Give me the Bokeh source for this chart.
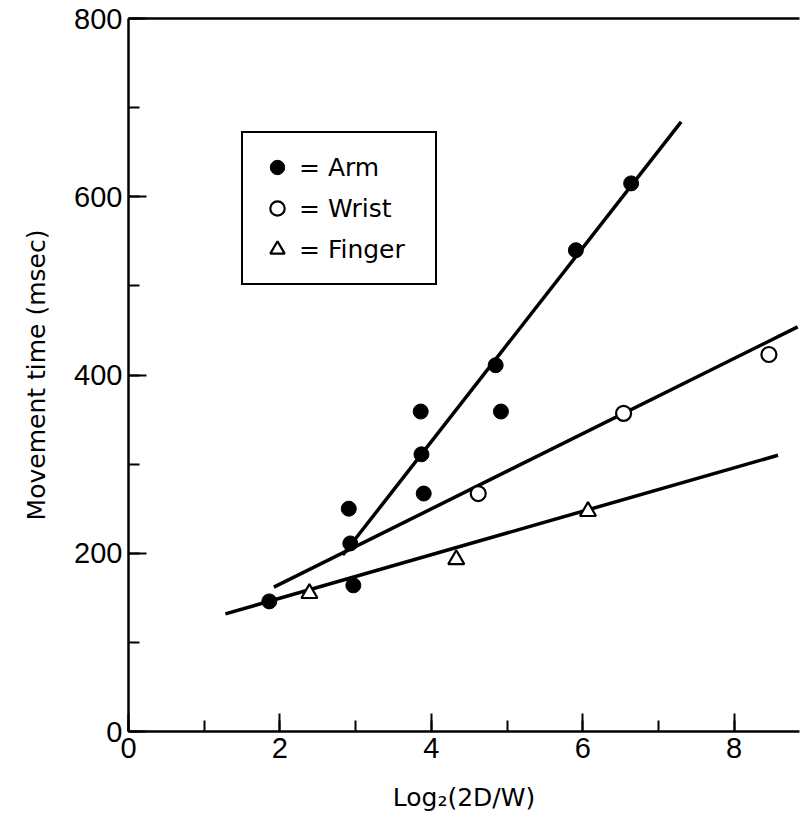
from bokeh.plotting import figure
from bokeh.models import Range1d, SingleIntervalTicker, Legend, LegendItem, LinearAxis, FixedTicker
from bokeh.embed import file_html
from bokeh.resources import INLINE

# ---- data ----
arm_x = [1.86, 2.91, 2.93, 2.97, 3.86, 3.87, 3.90, 4.85, 4.92, 5.91, 6.64]
arm_y = [146, 250, 211, 164, 359, 311, 267, 411, 359, 540, 615]
wrist_x = [4.62, 6.54, 8.46]
wrist_y = [267, 357, 423]
finger_x = [2.39, 4.33, 6.07]
finger_y = [155, 193, 247]

# fitted lines (end points)
arm_line_x = [2.83, 7.30]
arm_line_y = [198, 684]
wrist_line_x = [1.92, 8.84]
wrist_line_y = [162, 454]
finger_line_x = [1.28, 8.58]
finger_line_y = [132, 310]

labels = ["= Arm", "= Wrist", "= Finger"]

W, H = 800, 814
left, top = 128, 18
bottom_px = 731
p = figure(width=W, height=H, output_backend="svg", toolbar_location=None,
           x_range=Range1d(0, (W - 1 - left) / 75.7), y_range=Range1d(0, 800),
           min_border_left=left, min_border_right=1, min_border_top=top,
           min_border_bottom=H - bottom_px)
p.outline_line_color = None
p.grid.visible = False
p.background_fill_color = "white"

for ax in (p.xaxis[0], p.yaxis[0]):
    ax.axis_line_width = 2.5
    ax.axis_line_color = "black"
    ax.major_tick_in = 18
    ax.major_tick_out = 0
    ax.minor_tick_in = 11
    ax.minor_tick_out = 0
    ax.major_tick_line_width = 2
    ax.minor_tick_line_width = 2
    ax.major_tick_line_color = "black"
    ax.minor_tick_line_color = "black"
    ax.major_label_text_font = "Liberation Sans"
    ax.major_label_text_font_size = "29px"
    ax.major_label_text_color = "black"
    ax.axis_label_text_font = "DejaVu Sans"
    ax.axis_label_text_font_size = "25px"
    ax.axis_label_text_font_style = "normal"
    ax.axis_label_text_color = "black"

p.xaxis[0].ticker = SingleIntervalTicker(interval=2, num_minor_ticks=2)
p.yaxis[0].ticker = SingleIntervalTicker(interval=200, num_minor_ticks=2)
p.xaxis[0].axis_label = "Log₂(2D/W)"
p.yaxis[0].axis_label = "Movement time (msec)"
p.xaxis[0].major_label_standoff = 6
p.yaxis[0].major_label_standoff = 6
p.xaxis[0].axis_label_standoff = 22
p.yaxis[0].axis_label_standoff = 20

# top frame line (axis line only, no ticks or labels)
top_axis = LinearAxis(ticker=FixedTicker(ticks=[]), axis_line_width=2.5, axis_line_color="black",
                      major_tick_line_color=None, minor_tick_line_color=None,
                      major_label_standoff=0,
                      major_tick_in=0, major_tick_out=0, minor_tick_in=0, minor_tick_out=0)
p.add_layout(top_axis, "above")

# fitted lines
for lx, ly in ((arm_line_x, arm_line_y), (wrist_line_x, wrist_line_y), (finger_line_x, finger_line_y)):
    p.line(lx, ly, line_color="black", line_width=3.5)

r_arm = p.scatter(arm_x, arm_y, marker="circle", size=15, fill_color="black", line_color="black")
r_wrist = p.scatter(wrist_x, wrist_y, marker="circle", size=15, fill_color="white",
                    line_color="black", line_width=2.2)
r_finger = p.scatter(finger_x, finger_y, marker="triangle", size=16, fill_color="white",
                     line_color="black", line_width=2.2)

legend = Legend(items=[LegendItem(label=labels[0], renderers=[r_arm]),
                       LegendItem(label=labels[1], renderers=[r_wrist]),
                       LegendItem(label=labels[2], renderers=[r_finger])],
                location=(113, 446), margin=0, padding=16, spacing=5,
                glyph_width=36, glyph_height=36, label_standoff=4, label_width=120,
                label_text_font="DejaVu Sans", label_text_font_size="25px",
                label_text_color="black", border_line_color="black",
                border_line_alpha=1.0, border_line_width=2,
                background_fill_color="white", background_fill_alpha=1.0)
p.add_layout(legend, "center")

open("out.html", "w").write(file_html(p, INLINE))
